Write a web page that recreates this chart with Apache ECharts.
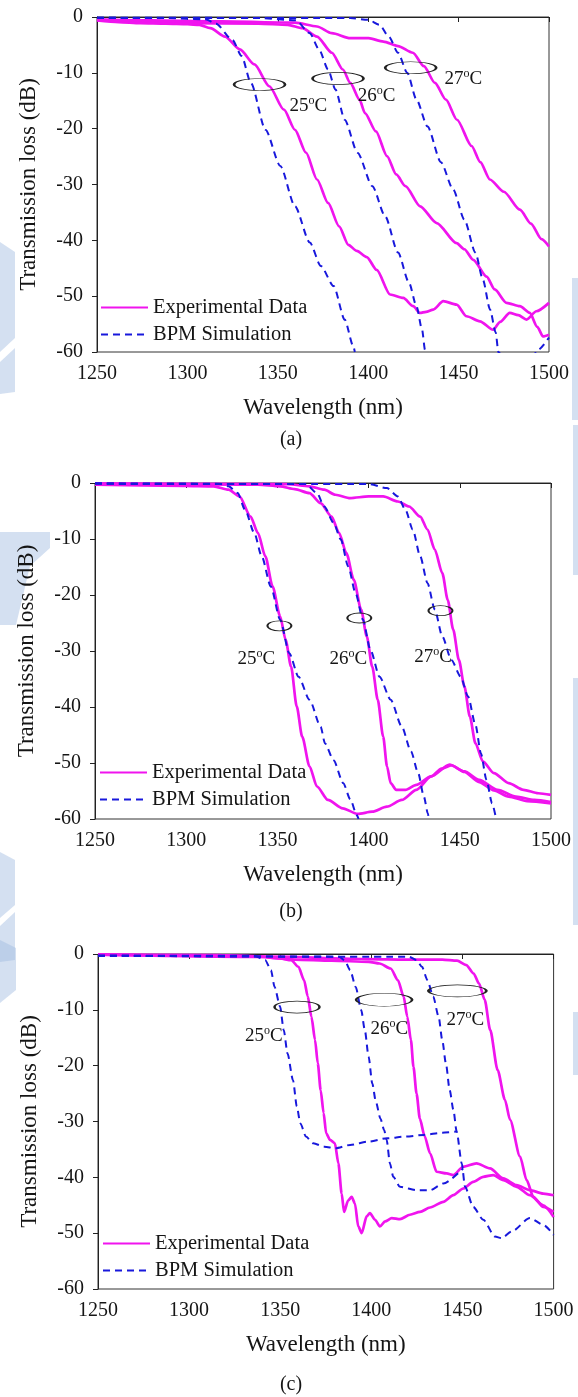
<!DOCTYPE html>
<html>
<head>
<meta charset="utf-8">
<script src="https://cdn.jsdelivr.net/npm/echarts@6/dist/echarts.min.js"></script>
<style>
  html, body { margin: 0; padding: 0; background: #ffffff; }
  #chart { width: 578px; height: 1397px; }
</style>
</head>
<body>
<div id="chart"></div>
<script>
// Wavelength (nm) / transmission loss (dB) pairs for each panel and temperature.

// ---- Panel (a) ----
const expA25 = [[1250,-0.6],[1262,-0.9],[1274,-1.1],[1288,-1.2],[1300,-1.3],[1306.6,-1.4],[1312.7,-2.0],[1320.8,-3.5],[1329,-5.8],[1337.1,-8.5],[1345.3,-12.4],[1353.4,-16.6],[1359.5,-20.2],[1365.6,-24.3],[1371.7,-29.1],[1377.8,-33.3],[1383.9,-37.5],[1389,-40.8],[1393.7,-41.9],[1399.2,-43.0],[1404.7,-45.3],[1412.1,-49.7],[1419.4,-50.3],[1424.9,-51.8],[1428.6,-53.0],[1432,-52.8],[1436,-52.4],[1441.5,-50.9],[1448.9,-51.5],[1454.4,-53.6],[1461.8,-54.5],[1469.1,-56.0],[1473,-54.6],[1478.3,-53.0],[1483,-53.4],[1487.6,-54.2],[1493,-52.7],[1500,-51.2]];
const expA26 = [[1250,-0.5],[1275,-0.8],[1298.5,-1.1],[1339.2,-1.2],[1355.5,-1.4],[1363.6,-2.0],[1371.7,-3.5],[1379.9,-6.4],[1386,-9.4],[1390.1,-11.8],[1395.2,-14.8],[1398.2,-17.2],[1404.3,-20.5],[1410.4,-24.9],[1415.5,-28.2],[1420.6,-30.3],[1428.7,-33.9],[1437.9,-36.9],[1448.9,-40.5],[1453.2,-41.6],[1458.1,-43.5],[1465.5,-46.5],[1470,-48.8],[1476.5,-51.2],[1483.9,-51.8],[1489.4,-53.0],[1493.5,-55.5],[1496.7,-57.2],[1500,-56.9]];
const expA27 = [[1250,-0.4],[1280,-0.6],[1318.8,-0.8],[1359.5,-1.0],[1371.7,-1.7],[1379.9,-2.9],[1390.1,-3.8],[1400.2,-3.8],[1408.4,-4.4],[1416.5,-5.2],[1424.7,-6.4],[1430.8,-8.8],[1436.9,-11.8],[1443,-14.8],[1449.1,-18.4],[1457.2,-23.1],[1462,-26.0],[1467.3,-29.1],[1475,-31.3],[1483.9,-34.5],[1490,-37.0],[1495.9,-39.8],[1500,-41.1]];
const bpmA25 = [[1250,-0.2],[1290,-0.2],[1310,-0.4],[1315.8,-1.2],[1324.9,-4.1],[1330,-7.0],[1335.1,-11.8],[1343.2,-20.2],[1351.4,-26.7],[1359.5,-33.9],[1367.7,-40.4],[1373.8,-44.6],[1380.9,-48.2],[1387,-54.2],[1391.8,-59.0],[1392.6,-60]];
const bpmA26 = [[1250,-0.2],[1340,-0.2],[1360,-0.6],[1367.7,-2.9],[1372.8,-5.8],[1377.8,-9.4],[1381.9,-13.0],[1387,-18.4],[1394.1,-24.3],[1402.3,-30.3],[1409.4,-35.7],[1416.5,-42.2],[1422.6,-47.6],[1426.7,-51.8],[1429.8,-56.0],[1431.4,-59.6],[1431.8,-60]];
const bpmA27 = [[1250,-0.1],[1390,-0.2],[1400,-0.5],[1406.3,-1.4],[1411.4,-3.5],[1416.5,-6.4],[1421.6,-10.0],[1426.7,-14.8],[1432.8,-19.6],[1440.2,-26.0],[1447,-30.9],[1453.2,-36.3],[1459.3,-42.2],[1463.4,-47.0],[1467.4,-52.4],[1470.5,-56.5],[1472,-60],[1480,-66],[1489,-62],[1494,-59.6],[1500,-57.4]];

// ---- Panel (b) ----
const expB25 = [[1250,-0.3],[1299,-0.5],[1315,-0.6],[1323.2,-1.2],[1329.2,-2.4],[1335.3,-6.0],[1339.3,-8.9],[1343.4,-13.1],[1347.4,-18.5],[1351.5,-23.8],[1354.5,-28.0],[1357.5,-32.8],[1360.6,-39.9],[1363.6,-45.3],[1367.6,-50.6],[1371.7,-54.2],[1377.7,-56.6],[1385.8,-58.1],[1394,-59.1],[1402,-58.7],[1410,-57.8],[1418.2,-56.6],[1426.2,-54.8],[1434.3,-52.4],[1440,-51.0],[1445.5,-50.4],[1452.5,-51.6],[1460.6,-53.4],[1468.7,-54.9],[1476.8,-56.0],[1486.9,-56.8],[1500,-57.2]];
const expB26 = [[1250,-0.1],[1339.3,-0.3],[1351.5,-0.6],[1359.5,-1.1],[1367.6,-1.8],[1373.7,-3.6],[1379.7,-6.0],[1383.8,-8.9],[1387.8,-12.5],[1391.9,-17.3],[1395.9,-22.6],[1399,-27.4],[1402,-32.8],[1405,-38.7],[1408,-45.3],[1410.1,-50.6],[1412.1,-53.6],[1415.1,-54.8],[1420.2,-54.8],[1426.2,-53.9],[1434.3,-52.4],[1444.4,-50.3],[1452.5,-51.5],[1460.6,-53.0],[1470.7,-54.8],[1480.8,-56.0],[1490.9,-56.6],[1500,-57.0]];
const expB27 = [[1250,-0.1],[1355.5,-0.2],[1367.6,-0.6],[1375.7,-1.2],[1381.8,-2.1],[1389.9,-2.7],[1400,-2.4],[1408,-2.4],[1416.1,-3.3],[1422.2,-4.2],[1428.3,-6.0],[1432.3,-8.3],[1436.3,-11.9],[1440.4,-16.1],[1443.4,-20.9],[1446.4,-26.2],[1449.5,-31.6],[1452.5,-36.3],[1455.5,-41.7],[1458.6,-46.5],[1462.6,-49.7],[1468.7,-51.8],[1476.8,-53.6],[1484.9,-54.8],[1493,-55.4],[1500,-55.7]];
const bpmB25 = [[1250,-0.1],[1319,-0.2],[1323.2,-0.6],[1328.2,-1.8],[1332.3,-4.8],[1337.3,-8.9],[1341.4,-13.1],[1346.4,-18.5],[1351.5,-24.4],[1356.5,-30.4],[1361.6,-34.6],[1367.6,-38.7],[1373.7,-43.5],[1376.1,-46.5],[1380.8,-49.5],[1386.1,-53.6],[1390,-56.5],[1393.5,-59.3],[1394.5,-60]];
const bpmB26 = [[1250,-0.1],[1365.6,-0.2],[1371.7,-1.8],[1375.7,-4.2],[1380.8,-7.1],[1384.8,-10.1],[1388.8,-14.9],[1392.9,-19.7],[1396.9,-24.4],[1401,-29.8],[1406,-34.6],[1412.1,-38.7],[1418.2,-43.5],[1423.2,-47.9],[1427.2,-51.8],[1430.3,-56.0],[1432.5,-59.0],[1433,-60]];
const bpmB27 = [[1250,-0.1],[1400,-0.2],[1410,-0.9],[1416.1,-2.4],[1420.2,-4.8],[1424.2,-8.3],[1428.3,-13.1],[1432.3,-17.9],[1436.3,-22.6],[1440.4,-27.4],[1445.4,-31.6],[1450.5,-34.6],[1454.5,-38.1],[1458.6,-43.2],[1461.6,-48.3],[1464.6,-53.0],[1467.7,-57.2],[1469.9,-60]];

// ---- Panel (c) ----
const expC25 = [[1250,-0.1],[1317.6,-0.2],[1337.8,-0.4],[1349.9,-0.8],[1356,-1.1],[1360,-2.3],[1363.1,-4.7],[1365.1,-7.6],[1367.1,-11.2],[1369.1,-15.4],[1370.6,-19.6],[1372.2,-24.4],[1373.8,-28.5],[1375.2,-32.1],[1377.3,-33.3],[1380,-33.9],[1381.9,-37.5],[1383.7,-42.9],[1385,-46.2],[1387.3,-44.1],[1389.2,-43.5],[1391,-44.7],[1392.8,-48.8],[1394.7,-50.0],[1397.4,-47.0],[1399.2,-46.4],[1402,-47.6],[1404.7,-48.8],[1407.5,-47.9],[1411.2,-47.3],[1415.7,-47.5],[1421.2,-46.7],[1426.7,-46.2],[1432.2,-45.4],[1439.5,-44.4],[1445,-43.2],[1450.4,-42.0],[1455.9,-40.8],[1461.4,-39.9],[1466.9,-39.6],[1472.4,-40.5],[1479.7,-41.7],[1487,-43.2],[1494.3,-45.0],[1500,-47.1]];
const expC26 = [[1250,-0.1],[1337.8,-0.5],[1358,-1.0],[1378.2,-1.2],[1398.5,-1.4],[1404.5,-1.7],[1410.6,-2.6],[1414.6,-4.7],[1417.7,-7.6],[1419.7,-11.2],[1421.7,-15.4],[1423.1,-20.2],[1424.8,-25.0],[1426.6,-29.5],[1429.2,-32.6],[1432.2,-35.7],[1435.8,-39.0],[1441.3,-39.3],[1445,-39.6],[1450.4,-38.1],[1457.7,-37.5],[1465.1,-38.4],[1472.4,-40.2],[1479.7,-41.4],[1487,-42.3],[1494.3,-42.9],[1500,-43.2]];
const expC27 = [[1250,-0.1],[1358,-0.5],[1378.2,-0.8],[1398.5,-0.9],[1418.7,-1.0],[1438.9,-1.0],[1447,-1.2],[1452.1,-2.0],[1456.1,-3.5],[1459.1,-5.3],[1462.2,-8.2],[1465.2,-13.6],[1469.3,-20.8],[1473.3,-26.1],[1476.1,-29.7],[1481.6,-36.3],[1485.2,-40.5],[1488.9,-43.5],[1494.3,-45.3],[1500,-46.2]];
const bpmC25 = [[1250,-0.3],[1335.8,-0.3],[1341.8,-1.1],[1344.9,-2.9],[1346.9,-5.9],[1349.9,-9.4],[1351.9,-13.6],[1354,-17.8],[1357,-22.6],[1359.1,-27.3],[1361,-30.3],[1364.1,-32.7],[1368.1,-33.9],[1374.2,-34.5],[1380.3,-34.8],[1388.4,-34.2],[1398.5,-33.6],[1408.6,-33.0],[1418.7,-32.7],[1428.8,-32.4],[1438.9,-32.0],[1446.8,-31.8]];
const bpmC26 = [[1250,-0.3],[1382.3,-0.5],[1385.3,-1.1],[1388.4,-2.9],[1391.4,-5.9],[1394.4,-10.0],[1396.4,-13.6],[1398.5,-18.4],[1400.5,-23.2],[1402.5,-26.5],[1405,-29.5],[1407,-31.5],[1408.4,-33.3],[1410.2,-37.5],[1412,-39.9],[1415.7,-41.7],[1424.9,-42.3],[1432.2,-42.3],[1439.5,-41.1],[1450.4,-38.4]];
const bpmC27 = [[1250,-0.3],[1420.7,-0.5],[1424.8,-1.1],[1427.8,-2.3],[1430.8,-4.7],[1433.9,-7.6],[1436.9,-11.2],[1438.9,-15.4],[1440.9,-19.6],[1443,-24.4],[1445,-27.9],[1446.8,-31.8],[1449.6,-37.5],[1451.4,-41.7],[1455.9,-45.3],[1461.4,-47.6],[1467.8,-50.6],[1471.5,-50.9],[1477,-49.7],[1487,-47.3],[1494.3,-48.5],[1500,-50.3]];

// Temperature markers: ellipse centre [nm, dB] and label anchor [nm, dB]
const temps = ['25', '26', '27'];
const ringsA = [[1339.9,-12.1],[1383.3,-11.0],[1423.5,-9.1]];
const ringSizeA = [[51,12],[51,12],[51,12]];
const tagsA = [[1366.9,-15.9],[1404.7,-14.1],[1452.6,-11.1]];
const ringsB = [[1351.1,-25.5],[1394.9,-24.1],[1439.4,-22.8]];
const ringSizeB = [[24,10],[24,10],[24,10]];
const tagsB = [[1338.5,-31.4],[1388.9,-31.4],[1435.4,-31.1]];
const ringsC = [[1359.2,-9.5],[1407,-8.2],[1447.2,-6.6]];
const ringSizeC = [[45,12],[56,13],[58,12]];
const tagsC = [[1341,-14.7],[1409.8,-13.4],[1451.5,-11.8]];

// Axis ticks
const xMin = 1250, xMax = 1500, xStep = 50;
const yMin = -60, yMax = 0, yStep = 10;

const EXP_NAME = 'Experimental Data';
const BPM_NAME = 'BPM Simulation';
const FONT = '"Liberation Serif", "Times New Roman", serif';
const MAGENTA = '#f014ee';
const BLUE = '#1818dc';
const INK = '#151515';

const panels = [
  { exp: [expA25, expA26, expA27], bpm: [bpmA25, bpmA26, bpmA27], rings: ringsA, sizes: ringSizeA, tags: tagsA,
    grid: { left: 97, top: 17, width: 452, height: 335 }, legend: { left: 100, top: 297 }, caption: { x: 291, y: 440, text: '(a)' } },
  { exp: [expB25, expB26, expB27], bpm: [bpmB25, bpmB26, bpmB27], rings: ringsB, sizes: ringSizeB, tags: tagsB,
    grid: { left: 95, top: 483, width: 456, height: 336 }, legend: { left: 99, top: 762 }, caption: { x: 291, y: 912, text: '(b)' } },
  { exp: [expC25, expC26, expC27], bpm: [bpmC25, bpmC26, bpmC27], rings: ringsC, sizes: ringSizeC, tags: tagsC,
    grid: { left: 98, top: 954, width: 455.6, height: 335 }, legend: { left: 102, top: 1233 }, caption: { x: 291, y: 1385, text: '(c)' } }
];

const grid = [], xAxis = [], yAxis = [], series = [], legend = [], graphic = [];

panels.forEach((p, i) => {
  grid.push(Object.assign({ show: true, borderColor: '#333', borderWidth: 1, backgroundColor: 'transparent' }, p.grid));
  xAxis.push({
    gridIndex: i, type: 'value', min: xMin, max: xMax, interval: xStep,
    name: 'Wavelength (nm)', nameLocation: 'middle', nameGap: 44,
    nameTextStyle: { fontFamily: FONT, fontSize: 23, color: INK },
    axisLine: { show: true, lineStyle: { color: '#222', width: 1 } },
    axisTick: { show: true, length: 5, lineStyle: { color: '#222', width: 1 } },
    axisLabel: { fontFamily: FONT, fontSize: 20, color: INK, margin: 12, formatter: v => String(v) },
    splitLine: { show: false }
  });
  yAxis.push({
    gridIndex: i, type: 'value', min: yMin, max: yMax, interval: yStep,
    name: 'Transmission loss (dB)', nameLocation: 'middle', nameGap: 57,
    nameTextStyle: { fontFamily: FONT, fontSize: 23, color: INK },
    axisLine: { show: true, lineStyle: { color: '#222', width: 1 } },
    axisTick: { show: true, length: 5, lineStyle: { color: '#222', width: 1 } },
    axisLabel: { fontFamily: FONT, fontSize: 20, color: INK, margin: 14, formatter: v => String(v) },
    splitLine: { show: false }
  });

  p.exp.forEach(d => series.push({
    name: EXP_NAME, type: 'line', xAxisIndex: i, yAxisIndex: i, data: d,
    symbol: 'none', showSymbol: false, smooth: 0.25, smoothMonotone: 'x', clip: true,
    lineStyle: { color: MAGENTA, width: 2.7 }, itemStyle: { color: MAGENTA }, z: 3, silent: true
  }));
  p.bpm.forEach(d => series.push({
    name: BPM_NAME, type: 'line', xAxisIndex: i, yAxisIndex: i, data: d,
    symbol: 'none', showSymbol: false, smooth: 0.25, smoothMonotone: 'x', clip: true,
    lineStyle: { color: BLUE, width: 2, type: [7, 5] }, itemStyle: { color: BLUE }, z: 4, silent: true
  }));

  // ellipses marking each temperature pair
  series.push({
    type: 'scatter', xAxisIndex: i, yAxisIndex: i, silent: true, z: 6,
    data: p.rings.map((c, k) => ({ value: c, symbolSize: p.sizes[k] })),
    symbol: 'circle',
    itemStyle: { color: 'rgba(0,0,0,0)', borderColor: '#222', borderWidth: 1.3, opacity: 1 }
  });
  // temperature labels
  series.push({
    type: 'scatter', xAxisIndex: i, yAxisIndex: i, silent: true, z: 7,
    data: p.tags.map((c, k) => ({ value: c, name: temps[k] })),
    symbolSize: 1, itemStyle: { color: 'rgba(0,0,0,0)', opacity: 1 },
    label: {
      show: true, position: 'inside', opacity: 1,
      formatter: q => '{n|' + q.name + '}{s|o}{n|C}',
      rich: {
        n: { fontFamily: FONT, fontSize: 19, color: INK, lineHeight: 22 },
        s: { fontFamily: FONT, fontSize: 12, color: INK, lineHeight: 22, verticalAlign: 'top', padding: [0, 0, 0, 0] }
      }
    }
  });

  legend.push({
    orient: 'vertical', left: p.legend.left, top: p.legend.top,
    data: [EXP_NAME, BPM_NAME], selectedMode: false,
    itemWidth: 47, itemHeight: 20, itemGap: 6, padding: 0,
    itemStyle: { opacity: 0 },
    textStyle: { fontFamily: FONT, fontSize: 20.5, color: INK }
  });

  graphic.push({
    type: 'text', x: p.caption.x, y: p.caption.y, silent: true,
    style: { text: p.caption.text, font: '20px ' + FONT, fill: INK, textAlign: 'center', textVerticalAlign: 'middle' }
  });
});

// faint background marks along the page edges
const wash = 'rgba(160,186,224,0.45)';
[
  [[0,242],[15,252],[15,338],[0,352]],
  [[0,362],[15,348],[15,392],[0,394]],
  [[0,532],[50,532],[50,548],[30,566],[16,625],[0,625]],
  [[0,852],[15,860],[15,905],[0,918]],
  [[0,926],[15,912],[15,960],[0,962]],
  [[0,940],[16,948],[16,990],[0,1003]],
  [[572,278],[578,278],[578,420],[572,420]],
  [[573,425],[578,425],[578,575],[573,575]],
  [[573,678],[578,678],[578,925],[573,925]],
  [[573,1012],[578,1012],[578,1075],[573,1075]]
].forEach(pts => graphic.push({
  type: 'polygon', silent: true, z: -10, shape: { points: pts }, style: { fill: wash }
}));

const chart = echarts.init(document.getElementById('chart'), null, { renderer: 'canvas' });
chart.setOption({
  backgroundColor: '#ffffff',
  animation: false,
  grid, xAxis, yAxis, series, legend, graphic
});
</script>
</body>
</html>
